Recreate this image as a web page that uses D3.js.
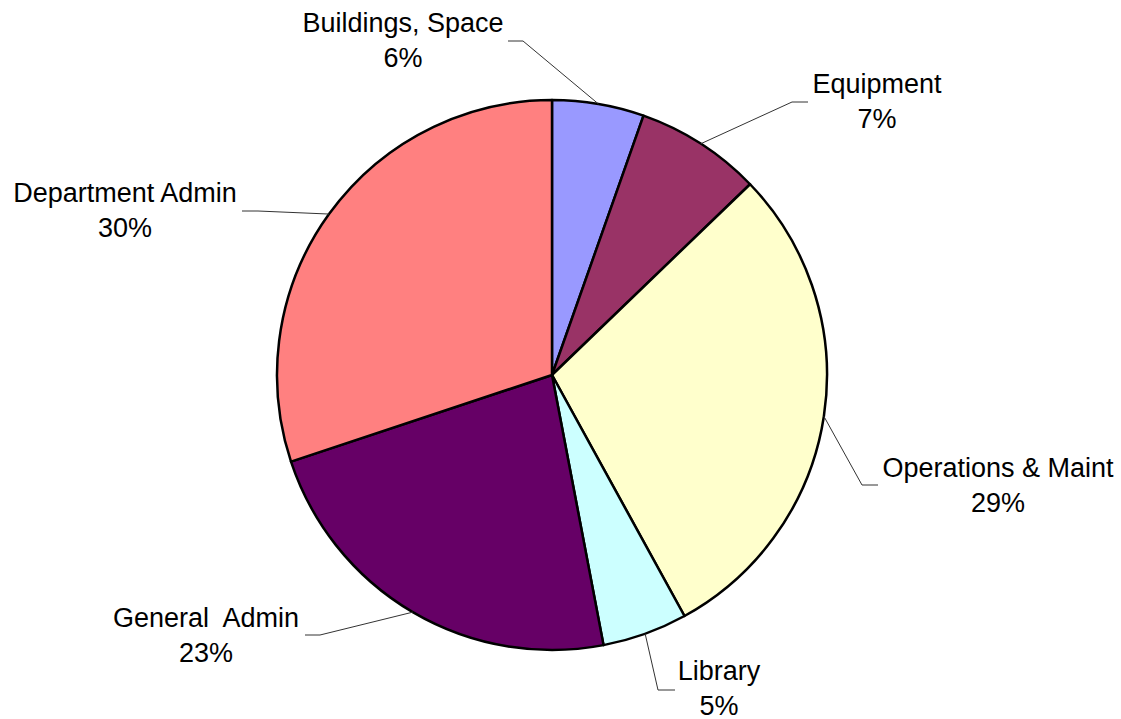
<!DOCTYPE html>
<html lang="en">

<head>
  <meta charset="UTF-8">
  <title>Cost Breakdown Pie</title>
  <script src="https://d3js.org/d3.v7.min.js"></script>
  <style>
    body {
      margin: 0;
      background-color: white;
    }

    svg text {
      font-family: 'Liberation Sans', Arial, sans-serif;
      font-size: 27px;
      fill: black;
      white-space: pre;
    }
  </style>
</head>

<body>
  <script>
    // Data, clockwise from 12 o'clock
    const categories = ["Buildings, Space", "Equipment", "Operations & Maint", "Library", "General  Admin", "Department Admin"];
    const shares = [5.4, 7.4, 29.2, 5.0, 22.9, 30.1];
    const percentLabels = ["6%", "7%", "29%", "5%", "23%", "30%"];
    const colors = ["#9999FF", "#993366", "#FFFFCC", "#CCFFFF", "#660066", "#FF8080"];

    // Label layout: elbow of leader, end of leader, text centre x and first baseline
    const labelLayout = [
      { elbow: [523, 41], end: [508, 41], tx: 403, ty: 32 },
      { elbow: [792, 102], end: [808, 102], tx: 877, ty: 93 },
      { elbow: [862, 485], end: [878, 485], tx: 998, ty: 477 },
      { elbow: [658, 690], end: [675, 690], tx: 719, ty: 680 },
      { elbow: [320, 635], end: [305, 635], tx: 206, ty: 627 },
      { elbow: [258, 211], end: [242, 211], tx: 125, ty: 202 }
    ];

    const width = 1121, height = 719;
    const cx = 552, cy = 375, radius = 275;

    const svg = d3.select("body").append("svg")
      .attr("width", width)
      .attr("height", height);

    const g = svg.append("g").attr("transform", `translate(${cx},${cy})`);

    const pie = d3.pie().sort(null).value(d => d);
    const arcs = pie(shares);
    const arc = d3.arc().innerRadius(0).outerRadius(radius);

    g.selectAll("path.slice")
      .data(arcs)
      .enter().append("path")
      .attr("class", "slice")
      .attr("d", arc)
      .attr("fill", (d, i) => colors[i])
      .attr("stroke", "black")
      .attr("stroke-width", 2.5)
      .attr("stroke-linejoin", "round");

    // Leader lines + labels
    arcs.forEach((d, i) => {
      const mid = (d.startAngle + d.endAngle) / 2;
      const sx = cx + radius * Math.sin(mid);
      const sy = cy - radius * Math.cos(mid);
      const L = labelLayout[i];
      svg.append("polyline")
        .attr("points", [[sx, sy], L.elbow, L.end].map(p => p.join(",")).join(" "))
        .attr("fill", "none")
        .attr("stroke", "#333")
        .attr("stroke-width", 1);

      const t = svg.append("text")
        .attr("text-anchor", "middle")
        .attr("x", L.tx)
        .attr("y", L.ty);
      t.append("tspan").attr("x", L.tx).attr("y", L.ty).text(categories[i]);
      t.append("tspan").attr("x", L.tx).attr("y", L.ty + 34.5).text(percentLabels[i]);
    });
  </script>
</body>

</html>
